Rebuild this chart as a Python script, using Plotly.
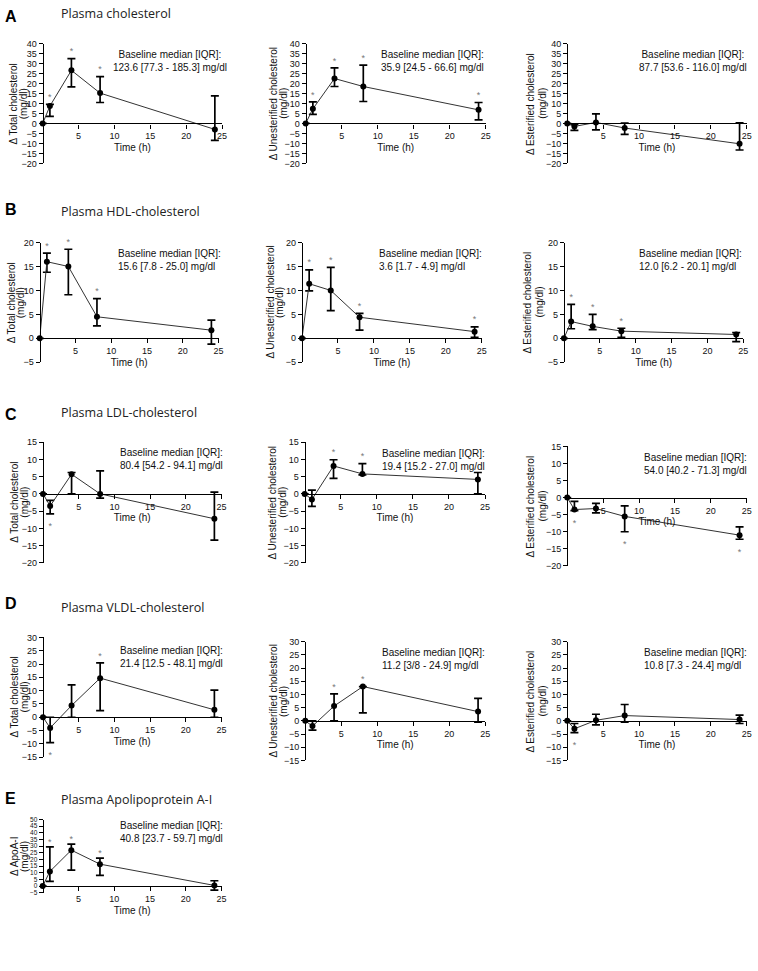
import plotly.graph_objects as go

W, H = 758, 971
FONT = "Arial, 'Liberation Sans', sans-serif"
TITLE_FONT = "'Open Sans', 'Noto Sans', sans-serif"

# ---------------- data ----------------
time_h = [0, 1, 4, 8, 24]
x_ticks = [5, 10, 15, 20, 25]

a_total_mean = [0, 8.7, 26.6, 15.2, -3.0]
a_total_hi = [0, 9.5, 32.5, 23.5, 13.8]
a_total_lo = [0, 3.5, 18.3, 10.5, -8.5]
a_total_star = ["", "up", "up", "up", ""]

a_unest_mean = [0, 7.3, 22.5, 18.5, 6.8]
a_unest_hi = [0, 10.8, 27.8, 29.2, 10.5]
a_unest_lo = [0, 4.5, 18.5, 11.0, 1.8]
a_unest_star = ["", "up", "up", "up", "up"]

a_est_mean = [0, -1.5, 0.5, -2.3, -10.2]
a_est_hi = [0, -0.5, 4.8, 0.2, 0.3]
a_est_lo = [0, -3.5, -3.2, -5.5, -13.3]
a_est_star = ["", "", "", "", ""]

b_total_mean = [0, 16.0, 15.0, 4.5, 1.7]
b_total_hi = [0, 17.8, 18.6, 8.3, 3.8]
b_total_lo = [0, 13.8, 9.1, 2.6, -1.2]
b_total_star = ["", "up", "up", "up", ""]

b_unest_mean = [0, 11.4, 10.0, 4.4, 1.4]
b_unest_hi = [0, 14.3, 14.8, 5.2, 2.4]
b_unest_lo = [0, 9.9, 5.8, 1.7, 0.2]
b_unest_star = ["", "up", "up", "up", "up"]

b_est_mean = [0, 3.5, 2.5, 1.5, 0.8]
b_est_hi = [0, 7.1, 5.0, 2.1, 1.2]
b_est_lo = [0, 2.0, 1.8, 0.2, -0.7]
b_est_star = ["", "up", "up", "up", ""]

c_total_mean = [0, -3.5, 5.7, 0.0, -7.2]
c_total_hi = [0, -1.9, 6.2, 6.7, 0.5]
c_total_lo = [0, -5.8, 0.0, -1.2, -13.4]
c_total_star = ["", "down", "", "", ""]

c_unest_mean = [0, -1.6, 8.1, 5.8, 4.2]
c_unest_hi = [0, 1.1, 9.9, 8.8, 6.2]
c_unest_lo = [0, -3.6, 4.5, 5.5, 0.0]
c_unest_star = ["", "", "up", "up", ""]

c_est_mean = [0, -3.5, -3.2, -5.5, -11.0]
c_est_hi = [0, -1.1, -1.7, -2.4, -8.6]
c_est_lo = [0, -3.8, -4.5, -10.0, -12.2]
c_est_star = ["", "down", "", "down", "down"]

d_total_mean = [0, -4.0, 4.4, 14.7, 2.8]
d_total_hi = [0, 0.0, 12.2, 20.4, 10.2]
d_total_lo = [0, -9.5, 0.0, 2.5, 0.0]
d_total_star = ["", "down", "", "up", ""]

d_unest_mean = [0, -2.0, 5.6, 13.0, 3.5]
d_unest_hi = [0, 0.0, 10.2, 13.0, 8.5]
d_unest_lo = [0, -3.5, 0.0, 3.0, -0.5]
d_unest_star = ["", "", "up", "up", ""]

d_est_mean = [0, -3.0, 0.2, 2.0, 0.5]
d_est_hi = [0, -1.0, 2.5, 6.2, 2.2]
d_est_lo = [0, -4.5, -1.5, -0.5, -1.0]
d_est_star = ["", "down", "", "", ""]

e_apoa_mean = [0, 11.0, 27.0, 16.5, 0.5]
e_apoa_hi = [0, 29.5, 31.5, 21.0, 4.0]
e_apoa_lo = [0, 3.5, 12.0, 8.0, -3.0]
e_apoa_star = ["", "up", "up", "up", ""]

baseline_texts = [
    "123.6 [77.3 - 185.3] mg/dl", "35.9 [24.5 - 66.6] mg/dl", "87.7 [53.6 - 116.0] mg/dl",
    "15.6 [7.8 - 25.0] mg/dl", "3.6 [1.7 - 4.9] mg/dl", "12.0 [6.2 - 20.1] mg/dl",
    "80.4 [54.2 - 94.1] mg/dl", "19.4 [15.2 - 27.0] mg/dl", "54.0 [40.2 - 71.3] mg/dl",
    "21.4 [12.5 - 48.1] mg/dl", "11.2 [3/8 - 24.9] mg/dl", "10.8 [7.3 - 24.4] mg/dl",
    "40.8 [23.7 - 59.7] mg/dl",
]
y_titles = ["Δ Total cholesterol", "Δ Unesterified cholesterol", "Δ Esterified cholesterol"] * 4 + ["Δ ApoA-I"]

section_letters = ["A", "B", "C", "D", "E"]
section_titles = ["Plasma cholesterol", "Plasma HDL-cholesterol", "Plasma LDL-cholesterol",
                  "Plasma VLDL-cholesterol", "Plasma Apolipoprotein A-I"]

series = [
    (a_total_mean, a_total_hi, a_total_lo, a_total_star),
    (a_unest_mean, a_unest_hi, a_unest_lo, a_unest_star),
    (a_est_mean, a_est_hi, a_est_lo, a_est_star),
    (b_total_mean, b_total_hi, b_total_lo, b_total_star),
    (b_unest_mean, b_unest_hi, b_unest_lo, b_unest_star),
    (b_est_mean, b_est_hi, b_est_lo, b_est_star),
    (c_total_mean, c_total_hi, c_total_lo, c_total_star),
    (c_unest_mean, c_unest_hi, c_unest_lo, c_unest_star),
    (c_est_mean, c_est_hi, c_est_lo, c_est_star),
    (d_total_mean, d_total_hi, d_total_lo, d_total_star),
    (d_unest_mean, d_unest_hi, d_unest_lo, d_unest_star),
    (d_est_mean, d_est_hi, d_est_lo, d_est_star),
    (e_apoa_mean, e_apoa_hi, e_apoa_lo, e_apoa_star),
]

# ---------------- layout (pixel geometry) ----------------
# x of t=0, x of t=25, y of top, y of bottom, y range, text x, text y center, text anchor, column
geom = [
    (43.0, 223.5, 39, 160, (-20, 40), 171, 57, "center", 0),
    (307.7, 489.0, 39, 160, (-20, 40), 435, 57, "center", 1),
    (571.0, 751.7, 39, 160, (-20, 40), 698, 57, "center", 2),
    (40.0, 220.0, 240, 361, (-5, 20), 117, 258, "left", 0),
    (304.0, 485.0, 240, 361, (-5, 20), 380, 258, "left", 1),
    (567.7, 748.3, 240, 361, (-5, 20), 641, 258, "left", 2),
    (43.3, 223.0, 441.7, 563.7, (-20, 15), 119, 458.5, "left", 0),
    (306.7, 488.3, 441.7, 563.7, (-20, 15), 383, 459.5, "left", 1),
    (571.0, 751.7, 446, 566.7, (-20, 15), 646, 464, "left", 2),
    (43.3, 223.0, 639, 760, (-15, 30), 119, 658.5, "left", 0),
    (307.3, 488.5, 643.3, 763.3, (-15, 30), 383, 661, "left", 1),
    (571.0, 751.7, 643.3, 763.3, (-15, 30), 646, 661, "left", 2),
    (43.0, 223.0, 823, 897, (-5, 50), 119, 836, "left", 0),
]
ytitle_offsets = [(-29, -19), (-32, -22.5), (-37, -25)]
letter_y = [12, 207, 414, 605, 802]
title_y = [9, 209, 412, 609, 803]

fig = go.Figure()
annotations = []

for i, ((mean, hi, lo, star), g) in enumerate(zip(series, geom), start=1):
    x0, x25, ytop, ybot, yr, tx, ty, talign, col = g
    xa, ya = f"x{i}", f"y{i}"
    span = yr[1] - yr[0]
    fig.add_trace(go.Scatter(
        x=time_h, y=mean, mode="lines+markers", xaxis=xa, yaxis=ya,
        line=dict(color="#333", width=1),
        marker=dict(color="black", size=6),
        error_y=dict(type="data", symmetric=False,
                     array=[h - m for h, m in zip(hi, mean)],
                     arrayminus=[m - l for m, l in zip(mean, lo)],
                     color="black", thickness=1.7, width=4),
        cliponaxis=False, hoverinfo="skip"))
    sx, sy = [], []
    for t, h, l, s in zip(time_h, hi, lo, star):
        if s == "up":
            sx.append(t); sy.append(h + 0.055 * span)
        elif s == "down":
            sx.append(t); sy.append(l - 0.11 * span)
    if sx:
        fig.add_trace(go.Scatter(
            x=sx, y=sy, mode="text", text=["*"] * len(sx), xaxis=xa, yaxis=ya,
            textfont=dict(family=FONT, size=9, color="#777"), cliponaxis=False, hoverinfo="skip"))

    y0px = ytop + (yr[1] / span) * (ybot - ytop)
    tick_size = 6.5 if span > 50 and (ybot - ytop) < 100 else 9
    sfx = "" if i == 1 else str(i)
    fig.layout[f"xaxis{sfx}"] = dict(
        domain=[x0 / W, x25 / W], range=[0, 25], anchor="free", position=1 - y0px / H,
        tickvals=x_ticks, ticks="outside", ticklen=4, tickwidth=1, tickcolor="black",
        showline=True, linecolor="black", linewidth=1.2, showgrid=False, zeroline=False,
        tickfont=dict(family=FONT, size=9, color="#111"),
        title=dict(text="Time (h)", font=dict(family=FONT, size=10, color="#111"), standoff=3))
    fig.layout[f"yaxis{sfx}"] = dict(
        domain=[1 - ybot / H, 1 - ytop / H], range=list(yr), anchor="free", position=x0 / W,
        tickvals=list(range(yr[0], yr[1] + 1, 5)), ticks="outside", ticklen=4, tickwidth=1,
        tickcolor="black", showline=True, linecolor="black", linewidth=1.2,
        showgrid=False, zeroline=False, tickfont=dict(family=FONT, size=tick_size, color="#111"))
    # y-axis titles (two rotated lines)
    ymid = 1 - ((ytop + ybot) / 2) / H
    off1, off2 = ytitle_offsets[col]
    for txt, off in ((y_titles[i - 1], off1), ("(mg/dl)", off2)):
        annotations.append(dict(
            x=(x0 + off) / W, y=ymid, xref="paper", yref="paper", textangle=-90,
            xanchor="center", yanchor="middle", showarrow=False, text=txt,
            font=dict(family=FONT, size=10, color="#111")))
    annotations.append(dict(
        x=tx / W, y=1 - ty / H, xref="paper", yref="paper",
        xanchor="center" if talign == "center" else "left", yanchor="middle",
        align=talign, showarrow=False,
        text=f"Baseline median [IQR]:<br>{baseline_texts[i-1]}",
        font=dict(family=FONT, size=10, color="#111")))

for letter, title, ly, tyy in zip(section_letters, section_titles, letter_y, title_y):
    annotations.append(dict(x=3 / W, y=1 - ly / H, xref="paper", yref="paper",
                            xanchor="left", yanchor="middle", showarrow=False, text=f"<b>{letter}</b>",
                            font=dict(family=FONT, size=16, color="black")))
    annotations.append(dict(x=59 / W, y=1 - tyy / H, xref="paper", yref="paper",
                            xanchor="left", yanchor="middle", showarrow=False, text=title,
                            font=dict(family=TITLE_FONT, size=12.5, color="#222")))

fig.update_layout(
    width=W, height=H, margin=dict(l=0, r=0, t=0, b=0),
    paper_bgcolor="white", plot_bgcolor="white", showlegend=False,
    annotations=annotations)

fig.write_html("out.html", config={"displayModeBar": False},
               post_script="document.body.style.margin='0px';")
